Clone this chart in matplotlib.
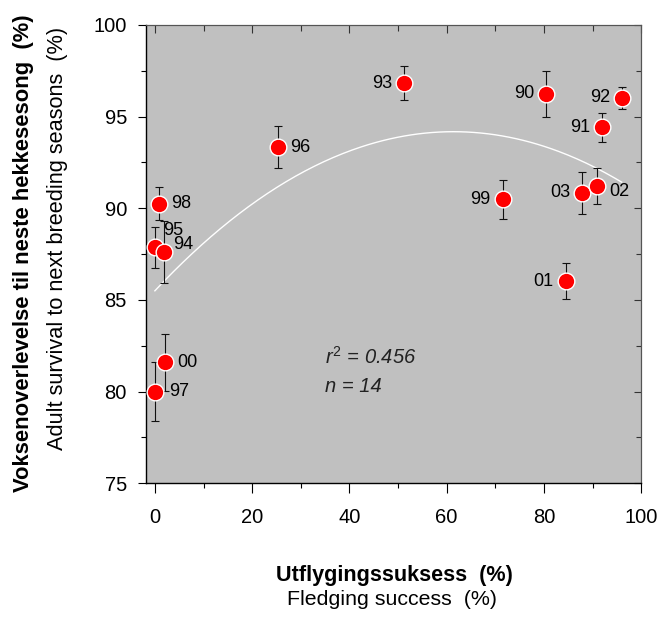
import matplotlib
matplotlib.use("Agg")

import matplotlib.pyplot as plt
import numpy as np
from matplotlib.ticker import MultipleLocator

plt.rcParams["font.family"] = ["Liberation Sans", "DejaVu Sans"]
plt.rcParams["mathtext.fontset"] = "custom"
plt.rcParams["mathtext.rm"] = "Liberation Sans"
plt.rcParams["mathtext.it"] = "Liberation Sans:italic"

# year labels, fledging success (%), adult survival (%), error (+/-)
years = ["93", "90", "92", "91", "99", "03", "02", "01", "96", "98", "95", "94", "00", "97"]
fledging = [51.2, 80.5, 96.0, 92.0, 71.5, 87.8, 90.9, 84.5, 25.4, 0.9, 0.0, 1.9, 2.1, 0.0]
survival = [96.82, 96.24, 96.03, 94.42, 90.49, 90.85, 91.22, 86.03, 93.34, 90.25, 87.87, 87.62, 81.6, 80.0]
survival_err = [0.92, 1.25, 0.6, 0.8, 1.05, 1.15, 1.0, 1.0, 1.15, 0.9, 1.1, 1.7, 1.55, 1.6]

# label offsets in pixels (dx, dy) relative to the point
label_offsets = {
    "93": (-12, 0), "90": (-12, 0), "92": (-12, 0), "91": (-12, 0),
    "99": (-12, 0), "03": (-12, 0), "02": (12, -6), "01": (-12, 0),
    "96": (12, 0), "98": (12, 0), "95": (8, 17), "94": (9, 7),
    "00": (12, 0), "97": (14, 0),
}

# quadratic fit y = a*x^2 + b*x + c, drawn over the data range
fit_coeffs = [-0.002302, 0.2827, 85.5]
fit_range = (0.0, 96.0)

fig = plt.figure(figsize=(6.59, 6.17), dpi=100)
ax = fig.add_axes([0.221, 0.2167, 0.752, 0.7428])
ax.set_facecolor("#c0c0c0")

fit_x = np.linspace(fit_range[0], fit_range[1], 200)
ax.plot(fit_x, np.polyval(fit_coeffs, fit_x), color="white", linewidth=1.0, zorder=2)

ax.errorbar(
    fledging, survival, yerr=survival_err,
    fmt="none", ecolor="#111111", elinewidth=0.8, capsize=3, capthick=0.8, zorder=3,
)
ax.plot(
    fledging, survival, linestyle="None", marker="o", markersize=12,
    markerfacecolor="#ff0000", markeredgecolor="white", markeredgewidth=1.0, zorder=4,
)

for label, x_value, y_value in zip(years, fledging, survival):
    dx, dy = label_offsets[label]
    ax.annotate(
        label, (x_value, y_value),
        xytext=(dx * 0.72, dy * 0.72), textcoords="offset points",
        ha="right" if dx < 0 else "left", va="center", fontsize=13, zorder=5,
    )

ax.text(35.05, 81.54, "$r^2$ = 0.456", fontsize=14.5, style="italic", va="baseline",
        color="#222222")
ax.text(35.05, 79.98, "n = 14", fontsize=14.5, style="italic", va="baseline",
        color="#222222")

ax.set_xlim(-1.9, 100)
ax.set_ylim(75, 100)
ax.xaxis.set_major_locator(MultipleLocator(20))
ax.xaxis.set_minor_locator(MultipleLocator(10))
ax.yaxis.set_major_locator(MultipleLocator(5))
ax.yaxis.set_minor_locator(MultipleLocator(2.5))
ax.tick_params(which="both", direction="out", labelsize=14.5, color="black", width=0.8)
ax.tick_params(axis="x", which="major", length=7, pad=10.5)
ax.tick_params(axis="x", which="minor", length=3.6)
ax.tick_params(axis="y", which="major", length=5.5, pad=8)
ax.tick_params(axis="y", which="minor", length=3.6)

top_axis = ax.secondary_xaxis("top")
top_axis.xaxis.set_major_locator(MultipleLocator(20))
top_axis.xaxis.set_minor_locator(MultipleLocator(10))
top_axis.tick_params(which="both", direction="in", labeltop=False, color="#333333", width=0.8)
top_axis.tick_params(which="major", length=6)
top_axis.tick_params(which="minor", length=4)
top_axis.spines["top"].set_color("#555555")

right_axis = ax.secondary_yaxis("right")
right_axis.yaxis.set_major_locator(MultipleLocator(5))
right_axis.yaxis.set_minor_locator(MultipleLocator(2.5))
right_axis.tick_params(which="both", direction="in", labelright=False, color="#333333", width=0.8)
right_axis.tick_params(which="major", length=5)
right_axis.tick_params(which="minor", length=3.5)
right_axis.spines["right"].set_color("#555555")

for side in ["left", "bottom"]:
    ax.spines[side].set_linewidth(1.0)
ax.spines["top"].set_color("#555555")
ax.spines["right"].set_color("#555555")

fig.text(0.598, 0.0665, "Utflygingssuksess  (%)", ha="center", va="center",
         fontsize=15.6, fontweight="bold")
fig.text(0.595, 0.029, "Fledging success  (%)", ha="center", va="center", fontsize=15.4)
fig.text(0.035, 0.590, "Voksenoverlevelse til neste hekkesesong  (%)", ha="center", va="center",
         rotation=90, fontsize=15.8, fontweight="bold")
fig.text(0.087, 0.613, "Adult survival to next breeding seasons  (%)", ha="center", va="center",
         rotation=90, fontsize=15.7)

fig.savefig("out.png", dpi=100)
